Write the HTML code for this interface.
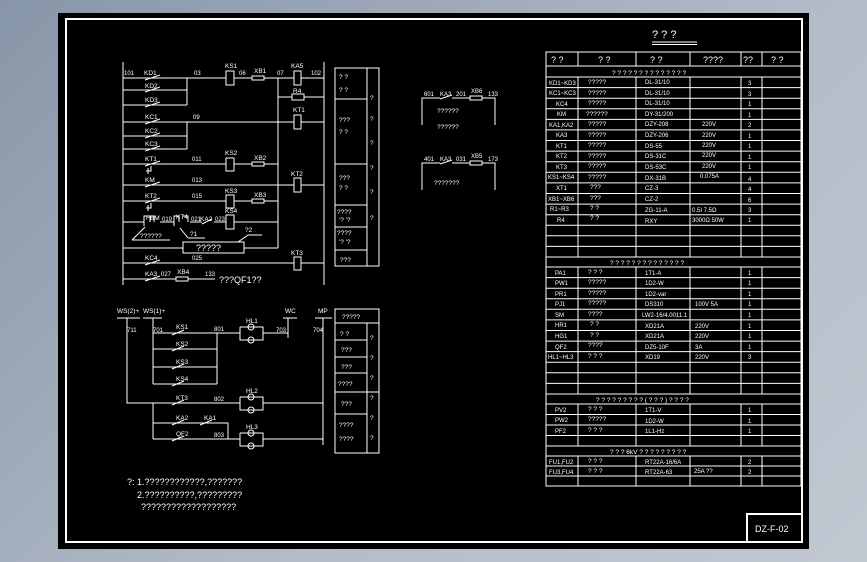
<!DOCTYPE html>
<html><head><meta charset="utf-8"><style>
html,body{margin:0;padding:0;width:867px;height:562px;overflow:hidden;background:linear-gradient(135deg,#8796a8 0%,#b4bcc8 60%,#c2c8d2 100%);}
svg{position:absolute;left:0;top:0;}
text{font-family:"Liberation Sans",sans-serif;fill:#fff;font-size:6.5px;}
.s{font-size:6px;}
.m{font-size:9px;}
.l{font-size:11px;}
</style></head><body>
<svg width="867" height="562" viewBox="0 0 867 562" xmlns="http://www.w3.org/2000/svg">
<rect x="58" y="13" width="751" height="536" fill="#000"/>
<g stroke="#fff" fill="none" stroke-width="1">
<rect x="66" y="19" width="736" height="523" stroke-width="2"/>
<polyline points="747,542 747,514 802,514" stroke-width="2"/>

<!-- upper-left circuit -->
<line x1="123" y1="62" x2="123" y2="285"/>
<line x1="324" y1="62" x2="324" y2="285"/>
<!-- row1 -->
<line x1="123" y1="78" x2="226" y2="78"/><rect x="226" y="71" width="8" height="14"/>
<line x1="234" y1="78" x2="252" y2="78"/><rect x="252" y="76" width="12" height="4"/>
<line x1="264" y1="78" x2="294" y2="78"/><rect x="294" y="71" width="7" height="14"/>
<line x1="301" y1="78" x2="324" y2="78"/>
<line x1="278" y1="78" x2="278" y2="248"/>
<line x1="278" y1="97" x2="292" y2="97"/><rect x="292" y="94" width="12" height="6"/><line x1="304" y1="97" x2="324" y2="97"/>
<line x1="123" y1="90" x2="187" y2="90"/><line x1="123" y1="105" x2="187" y2="105"/><line x1="187" y1="78" x2="187" y2="105"/>
<line x1="145" y1="80" x2="160" y2="75"/><line x1="145" y1="92" x2="160" y2="87"/><line x1="145" y1="107" x2="160" y2="102"/>
<!-- KC row -->
<line x1="123" y1="122" x2="294" y2="122"/><rect x="294" y="115" width="7" height="14"/><line x1="301" y1="122" x2="324" y2="122"/>
<line x1="123" y1="136" x2="187" y2="136"/><line x1="123" y1="149" x2="187" y2="149"/><line x1="187" y1="122" x2="187" y2="149"/>
<line x1="145" y1="124" x2="160" y2="119"/><line x1="145" y1="138" x2="160" y2="133"/><line x1="145" y1="151" x2="160" y2="146"/>
<!-- KT1 row -->
<line x1="123" y1="164" x2="226" y2="164"/><rect x="226" y="158" width="8" height="13"/>
<line x1="234" y1="164" x2="252" y2="164"/><rect x="252" y="162" width="12" height="4"/><line x1="264" y1="164" x2="278" y2="164"/>
<line x1="145" y1="166" x2="160" y2="161"/><path d="M146 171h5v-5M148 168v6"/>
<!-- KM row / KT2 -->
<line x1="123" y1="185" x2="278" y2="185"/><line x1="145" y1="187" x2="160" y2="182"/>
<line x1="278" y1="185" x2="294" y2="185"/><rect x="294" y="178" width="7" height="14"/><line x1="301" y1="185" x2="324" y2="185"/>
<!-- KT2 row -->
<line x1="123" y1="201" x2="226" y2="201"/><rect x="226" y="195" width="8" height="13"/>
<line x1="234" y1="201" x2="252" y2="201"/><rect x="252" y="199" width="12" height="4"/><line x1="264" y1="201" x2="278" y2="201"/>
<line x1="145" y1="203" x2="160" y2="198"/><path d="M146 208h5v-5M148 205v6"/>
<!-- FBM row -->
<line x1="123" y1="222" x2="144" y2="222"/><line x1="160" y1="222" x2="174" y2="222"/>
<path d="M144 226v-10h6v6M150 216h4v6"/><path d="M174 226v-10h5v6M183 216h5v6"/>
<line x1="190" y1="222" x2="202" y2="222"/><line x1="202" y1="224" x2="212" y2="219"/>
<line x1="214" y1="222" x2="226" y2="222"/><rect x="226" y="215" width="8" height="14"/><line x1="234" y1="222" x2="278" y2="222"/>
<line x1="123" y1="224" x2="278" y2="224" stroke-width="0"/>
<line x1="132" y1="240" x2="145" y2="227"/><line x1="132" y1="240" x2="170" y2="240"/>
<line x1="180" y1="228" x2="188" y2="238"/><line x1="188" y1="238" x2="205" y2="238"/>
<line x1="123" y1="227" x2="123" y2="227"/>
<!-- box row -->
<line x1="123" y1="248" x2="183" y2="248"/><rect x="183" y="242" width="61" height="11"/><line x1="244" y1="248" x2="278" y2="248"/>
<line x1="238" y1="242" x2="248" y2="235"/><line x1="248" y1="235" x2="262" y2="235"/>
<!-- KC4 -->
<line x1="123" y1="263" x2="294" y2="263"/><rect x="294" y="257" width="7" height="13"/><line x1="301" y1="263" x2="324" y2="263"/>
<line x1="145" y1="265" x2="160" y2="260"/>
<!-- KA3 -->
<line x1="123" y1="279" x2="176" y2="279"/><rect x="176" y="277" width="12" height="4"/><line x1="188" y1="279" x2="215" y2="279"/>
<line x1="145" y1="281" x2="160" y2="276"/>
<!-- upper panel table -->
<rect x="335" y="68" width="44" height="198"/>
<line x1="367" y1="68" x2="367" y2="266"/>
<line x1="335" y1="99" x2="367" y2="99"/><line x1="335" y1="164" x2="367" y2="164"/><line x1="335" y1="205" x2="367" y2="205"/><line x1="335" y1="227" x2="367" y2="227"/><line x1="335" y1="250" x2="367" y2="250"/>

<!-- middle small circuits -->
<polyline points="422,125 422,98 440,98"/><line x1="440" y1="99" x2="452" y2="95"/><line x1="452" y1="98" x2="470" y2="98"/><rect x="470" y="96" width="12" height="4"/><polyline points="482,98 495,98 495,125"/>
<polyline points="422,190 422,163 440,163"/><line x1="440" y1="164" x2="452" y2="160"/><line x1="452" y1="163" x2="470" y2="163"/><rect x="470" y="161" width="12" height="4"/><polyline points="482,163 495,163 495,190"/>

<!-- lower circuit -->
<line x1="117" y1="318" x2="140" y2="318"/><line x1="143" y1="318" x2="162" y2="318"/>
<line x1="283" y1="318" x2="297" y2="318"/><line x1="315" y1="318" x2="332" y2="318"/>
<polyline points="127,318 127,403 240,403"/>
<line x1="153" y1="318" x2="153" y2="384"/><line x1="153" y1="403" x2="153" y2="439"/>
<line x1="153" y1="333" x2="240" y2="333"/><line x1="153" y1="349" x2="217" y2="349"/><line x1="153" y1="367" x2="217" y2="367"/><line x1="153" y1="384" x2="217" y2="384"/>
<line x1="217" y1="333" x2="217" y2="384"/>
<g>
<line x1="172" y1="335" x2="184" y2="330"/><line x1="172" y1="351" x2="184" y2="346"/><line x1="172" y1="369" x2="184" y2="364"/><line x1="172" y1="386" x2="184" y2="381"/>
<line x1="172" y1="405" x2="184" y2="400"/><line x1="172" y1="425" x2="184" y2="420"/><line x1="200" y1="425" x2="212" y2="420"/><line x1="172" y1="441" x2="184" y2="436"/>
</g>
<polyline points="263,333 288,333"/><line x1="288" y1="318" x2="288" y2="338"/>
<line x1="323" y1="318" x2="323" y2="445"/>
<line x1="263" y1="403" x2="323" y2="403"/>
<polyline points="153,423 228,423 228,439"/>
<line x1="153" y1="439" x2="240" y2="439"/><line x1="263" y1="439" x2="323" y2="439"/>
<!-- lamps -->
<polyline points="240,327 240,340 263,340 263,327 240,327"/><circle cx="251" cy="327" r="3"/><circle cx="251" cy="340" r="3"/>
<polyline points="240,397 240,410 263,410 263,397 240,397"/><circle cx="251" cy="397" r="3"/><circle cx="251" cy="410" r="3"/>
<polyline points="240,433 240,446 263,446 263,433 240,433"/><circle cx="251" cy="433" r="3"/><circle cx="251" cy="446" r="3"/>
<!-- lower panel table -->
<rect x="335" y="309" width="44" height="144"/>
<line x1="335" y1="323" x2="379" y2="323"/><line x1="367" y1="323" x2="367" y2="453"/>
<line x1="335" y1="340" x2="367" y2="340"/><line x1="335" y1="357" x2="367" y2="357"/><line x1="335" y1="373" x2="367" y2="373"/><line x1="335" y1="392" x2="379" y2="392"/><line x1="335" y1="414" x2="367" y2="414"/>

<!-- title underline -->
<line x1="652" y1="42" x2="697" y2="42"/><line x1="652" y1="44.5" x2="697" y2="44.5"/>

<!-- right table -->
<rect x="546" y="52" width="255" height="434"/>
<line x1="546" y1="66" x2="801" y2="66"/><line x1="546" y1="77" x2="801" y2="77"/>
<g>
<line x1="546" y1="87.6" x2="801" y2="87.6"/><line x1="546" y1="98.2" x2="801" y2="98.2"/><line x1="546" y1="108.8" x2="801" y2="108.8"/><line x1="546" y1="119.4" x2="801" y2="119.4"/><line x1="546" y1="129.9" x2="801" y2="129.9"/><line x1="546" y1="140.5" x2="801" y2="140.5"/><line x1="546" y1="151.1" x2="801" y2="151.1"/><line x1="546" y1="161.7" x2="801" y2="161.7"/><line x1="546" y1="172.3" x2="801" y2="172.3"/><line x1="546" y1="182.9" x2="801" y2="182.9"/><line x1="546" y1="193.5" x2="801" y2="193.5"/><line x1="546" y1="204.1" x2="801" y2="204.1"/><line x1="546" y1="214.7" x2="801" y2="214.7"/><line x1="546" y1="225.3" x2="801" y2="225.3"/><line x1="546" y1="235.8" x2="801" y2="235.8"/><line x1="546" y1="246.4" x2="801" y2="246.4"/><line x1="546" y1="257" x2="801" y2="257"/><line x1="546" y1="267" x2="801" y2="267"/>
<line x1="546" y1="277.6" x2="801" y2="277.6"/><line x1="546" y1="288.2" x2="801" y2="288.2"/><line x1="546" y1="298.7" x2="801" y2="298.7"/><line x1="546" y1="309.3" x2="801" y2="309.3"/><line x1="546" y1="319.9" x2="801" y2="319.9"/><line x1="546" y1="330.5" x2="801" y2="330.5"/><line x1="546" y1="341.1" x2="801" y2="341.1"/><line x1="546" y1="351.6" x2="801" y2="351.6"/><line x1="546" y1="362.2" x2="801" y2="362.2"/><line x1="546" y1="372.8" x2="801" y2="372.8"/><line x1="546" y1="383.4" x2="801" y2="383.4"/><line x1="546" y1="394" x2="801" y2="394"/><line x1="546" y1="404" x2="801" y2="404"/>
<line x1="546" y1="414.5" x2="801" y2="414.5"/><line x1="546" y1="425" x2="801" y2="425"/><line x1="546" y1="435.5" x2="801" y2="435.5"/><line x1="546" y1="446" x2="801" y2="446"/><line x1="546" y1="456" x2="801" y2="456"/><line x1="546" y1="466" x2="801" y2="466"/><line x1="546" y1="476" x2="801" y2="476"/>
</g>
<path d="M578 52V66M636 52V66M690 52V66M741 52V66M762 52V66
M578 77V257M636 77V257M690 77V257M741 77V257M762 77V257
M578 267V394M636 267V394M690 267V394M741 267V394M762 267V394
M578 404V446M636 404V446M690 404V446M741 404V446M762 404V446
M578 456V486M636 456V486M690 456V486M741 456V486M762 456V486"/>
</g>

<!-- upper-left circuit text -->
<text x="124" y="75" class="s">101</text><text x="144" y="75">KD1</text><text x="194" y="75" class="s">03</text>
<text x="225" y="68">KS1</text><text x="239" y="75" class="s">06</text><text x="254" y="73">XB1</text><text x="277" y="75" class="s">07</text>
<text x="291" y="68">KA5</text><text x="311" y="75" class="s">102</text><text x="293" y="93">R4</text>
<text x="145" y="88">KD2</text><text x="145" y="102">KD3</text>
<text x="145" y="119">KC1</text><text x="193" y="119" class="s">09</text><text x="293" y="112">KT1</text>
<text x="145" y="133">KC2</text><text x="145" y="146">KC3</text>
<text x="145" y="161">KT1</text><text x="192" y="161" class="s">011</text><text x="225" y="155">KS2</text><text x="254" y="160">XB2</text>
<text x="145" y="182">KM</text><text x="192" y="182" class="s">013</text><text x="291" y="176">KT2</text>
<text x="145" y="198">KT2</text><text x="192" y="198" class="s">015</text><text x="225" y="193">KS3</text><text x="254" y="197">XB3</text>
<text x="146" y="220">FBM</text><text x="162" y="221" class="s">019</text><text x="176" y="219">KT4</text><text x="191" y="221" class="s">021</text><text x="200" y="221">KA2</text><text x="215" y="221" class="s">023</text><text x="225" y="213">KS4</text>
<text x="140" y="238">??????</text><text x="190" y="236">?1</text><text x="245" y="232">?2</text>
<text x="196" y="251" class="m">?????</text>
<text x="145" y="260">KC4</text><text x="192" y="260" class="s">025</text><text x="291" y="255">KT3</text>
<text x="145" y="276">KA3</text><text x="161" y="276" class="s">027</text><text x="177" y="274">XB4</text><text x="205" y="276" class="s">133</text>
<text x="219" y="283" class="m">???QF1??</text>
<!-- upper panel text -->
<text x="339" y="79">? ?</text><text x="339" y="92">? ?</text>
<text x="339" y="122">???</text><text x="339" y="134">? ?</text>
<text x="339" y="180">???</text><text x="339" y="190">? ?</text>
<text x="337" y="214">????</text><text x="339" y="222">'? '?</text>
<text x="337" y="235">????</text><text x="339" y="244">'? '?</text>
<text x="340" y="262">???</text>
<text x="370" y="100">?</text><text x="370" y="121">?</text><text x="370" y="145">?</text><text x="370" y="170">?</text><text x="370" y="194">?</text><text x="370" y="220">?</text>

<!-- middle texts -->
<text x="424" y="96" class="s">601</text><text x="440" y="96" class="s">KA3</text><text x="456" y="96" class="s">201</text><text x="471" y="93" class="s">XB6</text><text x="488" y="96" class="s">133</text>
<text x="437" y="113">??????</text><text x="437" y="129">??????</text>
<text x="424" y="161" class="s">401</text><text x="440" y="161" class="s">KA3</text><text x="456" y="161" class="s">031</text><text x="471" y="158" class="s">XB5</text><text x="488" y="161" class="s">173</text>
<text x="434" y="185">???????</text>

<!-- lower circuit texts -->
<text x="117" y="313">WS(2)+</text><text x="143" y="313">WS(1)+</text>
<text x="127" y="332" class="s">711</text><text x="153" y="332" class="s">701</text>
<text x="176" y="329">KS1</text><text x="176" y="346">KS2</text><text x="176" y="364">KS3</text><text x="176" y="381">KS4</text>
<text x="176" y="400">KT3</text><text x="176" y="420">KA2</text><text x="204" y="420">KA1</text><text x="176" y="436">QF2</text>
<text x="214" y="331" class="s">801</text><text x="276" y="332" class="s">703</text><text x="214" y="401" class="s">802</text><text x="214" y="437" class="s">803</text>
<text x="246" y="323">HL1</text><text x="246" y="393">HL2</text><text x="246" y="429">HL3</text>
<text x="285" y="313">WC</text><text x="318" y="313">MP</text><text x="313" y="332" class="s">704</text>
<text x="342" y="319">?????</text>
<text x="340" y="336">? ?</text><text x="341" y="352">???</text><text x="341" y="369">???</text><text x="338" y="386">????</text><text x="341" y="406">???</text><text x="339" y="427">????</text><text x="339" y="441">????</text>
<text x="370" y="340">?</text><text x="370" y="360">?</text><text x="370" y="380">?</text><text x="370" y="400">?</text><text x="370" y="420">?</text><text x="370" y="440">?</text>
<text x="127" y="485" class="m">?: 1.????????????,???????</text>
<text x="137" y="498" class="m">2.??????????,?????????</text>
<text x="141" y="510" class="m">???????????????????</text>

<!-- title -->
<text x="652" y="38" class="l">? ? ?</text>
<text x="755" y="532" class="m">DZ-F-02</text>

<!-- table header -->
<g class="h">
<text x="551" y="63" class="m">? ?</text><text x="598" y="63" class="m">? ?</text><text x="650" y="63" class="m">? ?</text><text x="703" y="63" class="m">????</text><text x="743" y="63" class="m">??</text><text x="771" y="63" class="m">? ?</text>
<text x="612" y="75">? ? ? ? ? ? ? ? ? ? ? ? ? ?</text>
</g>
<g class="s">
<text x="549" y="85" class="s">KD1~KD3</text><text x="588" y="84">?????</text><text x="645" y="84" class="s">DL-31/10</text><text x="748" y="85" class="s">3</text>
<text x="549" y="95" class="s">KC1~KC3</text><text x="588" y="95">?????</text><text x="645" y="95" class="s">DL-31/10</text><text x="748" y="96" class="s">3</text>
<text x="556" y="106" class="s">KC4</text><text x="588" y="105">?????</text><text x="645" y="105" class="s">DL-31/10</text><text x="748" y="106" class="s">1</text>
<text x="557" y="116" class="s">KM</text><text x="586" y="116">??????</text><text x="645" y="116" class="s">DY-31/200</text><text x="748" y="117" class="s">1</text>
<text x="549" y="127" class="s">KA1,KA2</text><text x="588" y="126">?????</text><text x="645" y="126" class="s">DZY-208</text><text x="702" y="126" class="s">220V</text><text x="748" y="127" class="s">2</text>
<text x="556" y="137" class="s">KA3</text><text x="588" y="137">?????</text><text x="645" y="137" class="s">DZY-206</text><text x="702" y="137" class="s">220V</text><text x="748" y="138" class="s">1</text>
<text x="556" y="148" class="s">KT1</text><text x="588" y="147">?????</text><text x="645" y="148" class="s">DS-55</text><text x="702" y="147" class="s">220V</text><text x="748" y="148" class="s">1</text>
<text x="556" y="158" class="s">KT2</text><text x="588" y="158">?????</text><text x="645" y="158" class="s">DS-31C</text><text x="702" y="157" class="s">220V</text><text x="748" y="159" class="s">1</text>
<text x="556" y="169" class="s">KT3</text><text x="588" y="168">?????</text><text x="645" y="169" class="s">DS-53C</text><text x="702" y="168" class="s">220V</text><text x="748" y="169" class="s">1</text>
<text x="548" y="179" class="s">KS1~KS4</text><text x="588" y="179">?????</text><text x="645" y="180" class="s">DX-31B</text><text x="700" y="178" class="s">0.075A</text><text x="748" y="181" class="s">4</text>
<text x="556" y="190" class="s">XT1</text><text x="590" y="189">???</text><text x="645" y="190" class="s">CZ-3</text><text x="748" y="191" class="s">4</text>
<text x="548" y="201" class="s">XB1~XB6</text><text x="590" y="200">???</text><text x="645" y="201" class="s">CZ-2</text><text x="748" y="202" class="s">6</text>
<text x="550" y="211" class="s">R1~R3</text><text x="590" y="210">? ?</text><text x="645" y="212" class="s">ZG-11-A</text><text x="692" y="212" class="s">0.5I  7.5Ω</text><text x="748" y="212" class="s">3</text>
<text x="557" y="222" class="s">R4</text><text x="590" y="220">? ?</text><text x="645" y="223" class="s">RXY</text><text x="692" y="222" class="s">3000Ω  50W</text><text x="748" y="222" class="s">1</text>
</g>
<text x="610" y="265">? ? ? ? ? ? ? ? ? ? ? ? ? ?</text>
<text x="555" y="275" class="s">PA1</text><text x="588" y="274">? ? ?</text><text x="645" y="275" class="s">1T1-A</text><text x="748" y="275" class="s">1</text>
<text x="555" y="285" class="s">PW1</text><text x="588" y="284">?????</text><text x="645" y="285" class="s">1D2-W</text><text x="748" y="285" class="s">1</text>
<text x="555" y="296" class="s">PR1</text><text x="588" y="295">?????</text><text x="645" y="296" class="s">1D2-var</text><text x="748" y="296" class="s">1</text>
<text x="555" y="306" class="s">PJ1</text><text x="588" y="305">?????</text><text x="645" y="306" class="s">DS310</text><text x="695" y="306" class="s">100V 5A</text><text x="748" y="306" class="s">1</text>
<text x="555" y="317" class="s">SM</text><text x="588" y="316">????</text><text x="642" y="317" class="s">LW2-16/4.0011.1</text><text x="748" y="317" class="s">1</text>
<text x="555" y="327" class="s">HR1</text><text x="590" y="326">? ?</text><text x="645" y="328" class="s">XD21A</text><text x="695" y="328" class="s">220V</text><text x="748" y="328" class="s">1</text>
<text x="555" y="338" class="s">HG1</text><text x="590" y="337">? ?</text><text x="645" y="338" class="s">XD21A</text><text x="695" y="338" class="s">220V</text><text x="748" y="338" class="s">1</text>
<text x="555" y="349" class="s">QF2</text><text x="588" y="347">????</text><text x="645" y="349" class="s">DZ5-10F</text><text x="695" y="349" class="s">3A</text><text x="748" y="349" class="s">1</text>
<text x="548" y="359" class="s">HL1~HL3</text><text x="588" y="358">? ? ?</text><text x="645" y="359" class="s">XD19</text><text x="695" y="359" class="s">220V</text><text x="748" y="359" class="s">3</text>
<text x="596" y="402">? ? ? ? ? ? ? ? ? ( ? ? ? ) ? ? ? ?</text>
<text x="555" y="412" class="s">PV2</text><text x="588" y="411">? ? ?</text><text x="645" y="412" class="s">1T1-V</text><text x="748" y="412" class="s">1</text>
<text x="555" y="422" class="s">PW2</text><text x="588" y="421">?????</text><text x="645" y="423" class="s">1D2-W</text><text x="748" y="423" class="s">1</text>
<text x="555" y="433" class="s">PF2</text><text x="588" y="432">? ? ?</text><text x="645" y="433" class="s">1L1-Hz</text><text x="748" y="433" class="s">1</text>
<text x="610" y="454">? ? ? 6kV ? ? ? ? ? ? ? ? ?</text>
<text x="549" y="464" class="s">FU1,FU2</text><text x="588" y="463">? ? ?</text><text x="645" y="464" class="s">RT22A-16/6A</text><text x="748" y="464" class="s">2</text>
<text x="549" y="474" class="s">FU3,FU4</text><text x="588" y="473">? ? ?</text><text x="645" y="474" class="s">RT22A-63</text><text x="694" y="473" class="s">25A ??</text><text x="748" y="474" class="s">2</text>
</svg>
</body></html>
